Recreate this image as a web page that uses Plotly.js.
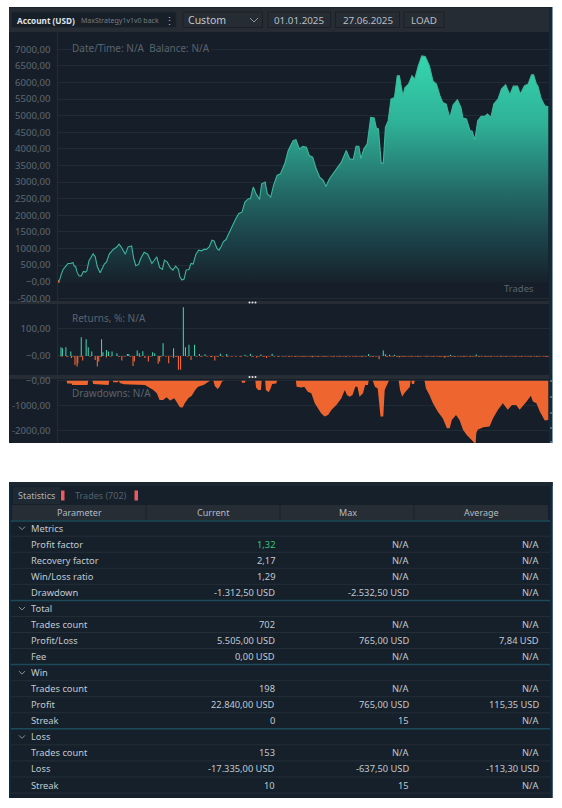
<!DOCTYPE html>
<html><head><meta charset="utf-8">
<script src="https://cdn.plot.ly/plotly-3.0.1.min.js"></script>
<style>html,body{margin:0;padding:0;background:#fff}#c{width:562px;height:808px}</style>
</head><body><div id="c"></div>
<script>
const equityTrades=[0,3,5,8,12,15,19,22,24,26,28,31,34,37,40,42,45,47,51,54,57,61,64,67,70,74,80,84,88,91,97,101,106,109,112,116,119,124,129,132,135,138,142,146,150,153,157,161,165,169,173,175,178,181,184,188,191,194,198,202,206,210,213,217,221,224,228,231,234,237,241,245,248,254,259,264,268,273,276,280,284,289,292,297,300,305,309,314,319,325,330,337,341,346,351,356,360,365,370,375,380,384,389,396,406,413,418,423,427,431,434,438,443,448,453,456,459,463,466,469,473,477,482,486,489,494,497,502,507,511,516,521,526,532,537,542,547,551,556,561,566,572,577,580,585,590,593,597,601,606,611,615,620,624,630,635,641,647,652,658,662,668,673,678,681,685,687,692,697,702];
const equityValues=[0,50,200,370,470,550,550,580,470,450,280,170,170,310,290,330,630,700,840,750,450,270,400,530,590,830,980,1030,1130,1050,830,1050,1080,700,480,520,700,890,830,670,550,630,750,430,370,650,590,430,350,470,370,150,50,80,350,370,550,530,830,950,930,980,970,1050,1250,1230,1000,950,1050,1200,1270,1450,1600,1850,2050,2100,2400,2500,2500,2850,2650,2480,2950,3000,2650,2550,2900,3200,3250,3550,3950,4250,4280,4000,4080,4050,3800,3750,3400,3150,3050,2870,3100,3300,3600,3950,3700,3680,4080,4080,3700,4000,4150,4950,4930,4630,4600,3570,3570,4650,4850,5500,5550,6200,6200,5600,5850,5950,6200,6100,6500,6800,6780,6500,6050,5950,5600,5400,5350,4930,5330,5480,5250,4930,4900,4550,4530,4270,4850,4980,4980,5050,4950,5350,5500,5800,5930,5630,5890,5890,5650,5900,5950,6230,6230,5950,5900,5500,5300,5270];
const startLossTrades=[0,3];
const startLossValues=[0,0];
const winTrades=[5,7,12,19,34,41,44,49,63,65,70,73,78,85,100,102,114,117,122,136,139,151,166,180,183,188,196,203,211,233,242,268,276,291,307,445,466,469,475,482,562,599];
const winValues=[32,28,32,16,68,61,32,16,61,13,22,16,16,10,7,7,20,10,17,13,10,46,28,178,32,41,41,7,6,8,7,4,8,5,8,7,20,6,4,4,4,5];
const bigLossTrades=[20,25,28,29,36,54,57,59,70,92,108,110,125,130,144,146,159,166,173,176,191,225,285,299,365,460,489,554];
const bigLossValues=[-8,-33,-39,-27,-17,-15,-39,-21,-6,-17,-37,-21,-8,-21,-29,-21,-27,-8,-51,-51,-15,-17,-7,-8,-5,-12,-5,-7];
const smallLossTrades=[6,14,23,33,47,62,76,88,96,104,118,134,148,155,163,170,186,199,206,214,220,229,236,243,249,255,262,271,279,288,295,303,310,316,322,326,331,335,340,344,348,352,356,360,364,369,373,378,382,386,391,395,400,404,409,413,418,423,427,432,436,441,447,451,456,471,476,480,486,491,495,499,503,507,512,516,520,525,529,534,538,543,547,551,555,559,564,568,573,577,581,585,590,594,598,603,607,612,616,620,625,629,634,638,642,647,651,655,660,664,669,673,677,682,686,690,695,699,702];
const smallLossValues=[-2,-3,-2,-3,-2,-3,-2,-3,-2,-2,-3,-2,-3,-2,-2,-3,-2,-2,-3,-2,-4,-3,-2,-3,-2,-2,-3,-2,-3,-2,-3,-2,-2,-3,-2,-2,-3,-2,-3,-2,-2,-3,-2,-2,-3,-2,-3,-2,-3,-2,-2,-3,-2,-3,-2,-3,-2,-2,-3,-2,-3,-2,-2,-3,-2,-3,-2,-2,-3,-2,-3,-2,-2,-3,-2,-3,-2,-2,-3,-2,-3,-2,-3,-2,-2,-3,-2,-3,-2,-2,-3,-2,-3,-2,-2,-3,-2,-3,-2,-3,-2,-2,-3,-2,-3,-2,-2,-3,-2,-3,-2,-2,-3,-2,-3,-2,-2,-3,-2];
const ddTrades=[13,14,20,21,43,44,50,51,73,74,79,80,86,87,88,89,95,125,137,142,146,151,156,161,167,170,175,179,182,187,192,197,201,209,217,218,223,225,229,232,235,238,263,264,268,269,283,284,287,291,292,297,298,302,305,307,313,314,341,342,349,353,358,363,368,372,377,382,387,392,399,406,411,414,418,422,426,429,432,437,440,444,445,451,454,458,462,466,468,474,488,490,493,496,504,505,506,507,510,511,525,527,532,537,544,551,557,561,564,570,575,580,585,592,598,599,601,609,618,623,630,637,644,650,656,661,666,671,677,680,685,690,697,702];
const ddValues=[0,-105,-110,-170,-170,0,0,-130,-170,0,0,-55,-55,0,0,-85,-135,-165,-370,-500,-765,-765,-660,-790,-700,-830,-1055,-1070,-900,-700,-595,-370,-240,-170,-40,0,0,-210,-330,-240,-40,0,0,-80,-80,0,0,-265,-370,-370,0,0,-370,-460,-300,-130,-105,0,0,-240,-265,-240,-435,-500,-900,-1095,-1295,-1425,-1360,-1160,-965,-700,-370,-570,-635,-570,-240,-240,-635,-500,-170,-170,0,0,-240,-305,-1425,-1425,-370,0,0,-370,-635,-500,-240,0,0,-130,-130,0,0,-305,-570,-900,-1230,-1490,-1890,-1890,-1560,-1360,-1560,-1955,-2150,-2350,-2530,-2085,-1955,-1850,-1820,-1490,-1160,-900,-1160,-965,-965,-1160,-1000,-830,-595,-830,-900,-1230,-1585,-1560];
const equityTicks=[7000,6500,6000,5500,5000,4500,4000,3500,3000,2500,2000,1500,1000,500,0,-500];
const equityTickText=['7000,00','6500,00','6000,00','5500,00','5000,00','4500,00','4000,00','3500,00','3000,00','2500,00','2000,00','1500,00','1000,00','500,00','−0,00','-500,00'];
const returnTicks=[100,0];
const returnTickText=['100,00','−0,00'];
const ddTicks=[0,-1000,-2000];
const ddTickText=['−0,00','-1000,00','-2000,00'];
const tableHeaders=['Parameter','Current','Max','Average'];
const rowNames=['Metrics','Profit factor','Recovery factor','Win/Loss ratio','Drawdown','Total','Trades count','Profit/Loss','Fee','Win','Trades count','Profit','Streak','Loss','Trades count','Loss','Streak'];
const rowIsGroup=[1,0,0,0,0,1,0,0,0,1,0,0,0,1,0,0,0];
const currentCol=['','1,32','2,17','1,29','-1.312,50 USD','','702','5.505,00 USD','0,00 USD','','198','22.840,00 USD','0','','153','-17.335,00 USD','10'];
const maxCol=['','N/A','N/A','N/A','-2.532,50 USD','','N/A','765,00 USD','N/A','','N/A','765,00 USD','15','','N/A','-637,50 USD','15'];
const avgCol=['','N/A','N/A','N/A','N/A','','N/A','7,84 USD','N/A','','N/A','115,35 USD','N/A','','N/A','-113,30 USD','N/A'];

const W=562,H=808,FONT='"Noto Sans", "Open Sans", sans-serif';
const px=x=>x/W, py=y=>1-y/H;
const shapes=[],ann=[];
function rect(x0,y0,x1,y1,fill,line){shapes.push({type:'rect',xref:'paper',yref:'paper',x0:px(x0),x1:px(x1),y0:py(y0),y1:py(y1),fillcolor:fill,line:line?{color:line,width:1}:{width:0},layer:'below'});}
function hline(x0,x1,y,c,w){shapes.push({type:'line',xref:'paper',yref:'paper',x0:px(x0),x1:px(x1),y0:py(y),y1:py(y),line:{color:c,width:w||1},layer:'below'});}
function vline(x,y0,y1,c){shapes.push({type:'line',xref:'paper',yref:'paper',x0:px(x),x1:px(x),y0:py(y0),y1:py(y1),line:{color:c,width:1},layer:'below'});}
function txt(t,x,y,o){o=o||{};ann.push({text:t,xref:'paper',yref:'paper',x:px(x),y:py(y),xanchor:o.a||'left',yanchor:'middle',showarrow:false,borderpad:0,bgcolor:o.bg,font:{family:FONT,size:o.s||9.5,color:o.c||'#c2c9cf',weight:o.w}});}

const PANEL='#161f29';
rect(9,7,552,443,PANEL);
rect(9,7,549,32,'#262c33');
rect(549,7,552.5,443,'#0e2a3c');
rect(9,7,552,8,'#1b232c');
rect(9,301,549,304,'#262d35');
rect(9,375,549,379,'#262d35');
[302.5,377].forEach(y=>[249.5,252.5,255.5].forEach(x=>shapes.push({type:'circle',xref:'paper',yref:'paper',x0:px(x-1),x1:px(x+1),y0:py(y+1),y1:py(y-1),fillcolor:'#e6e9ec',line:{width:0},layer:'above'})));
[381,397,413,428,442].forEach(y=>hline(550,552.5,y,'#7fb0c8',1));
rect(11.5,12,176,27.5,'#171f29','#1f262e');
txt('<b>Account (USD)</b>',15.5,20,{s:8.2,c:'#dfe4e8'});
txt('MaxStrategy1v1v0 back',80,20,{s:7,c:'#747c84'});
txt('⋮',169,20,{s:11,c:'#aeb5bc',a:'center'});
rect(183,12,262.5,27.5,'#262c33','#1b2027');
txt('Custom',187,20,{s:10.5,c:'#c2c8cd'});
shapes.push({type:'path',xref:'paper',yref:'paper',path:`M${px(250)},${py(18)} L${px(254)},${py(22)} L${px(258)},${py(18)}`,line:{color:'#8b929a',width:1},layer:'above'});
rect(268,12,330.5,27.5,'#262c33','#1b2027');
txt('01.01.2025',299,20,{s:9.8,c:'#b8bfc5',a:'center'});
rect(335.5,12,399.5,27.5,'#262c33','#1b2027');
txt('27.06.2025',367.5,20,{s:9.8,c:'#b8bfc5',a:'center'});
rect(404,12,444,27.5,'#262c33','#1b2027');
txt('LOAD',424,20,{s:9.8,c:'#b8bfc5',a:'center'});
txt('Date/Time: N/A  Balance: N/A',71,48,{s:10,c:'#59636d',bg:PANEL});
txt('Returns, %: N/A',71,318,{s:10,c:'#59636d'});
txt('Drawdowns: N/A',71,393,{s:10,c:'#59636d'});
txt('Trades',535,288.5,{s:9.5,c:'#59636d',a:'right'});
const TB='#15202b';
rect(9,482,552.5,798,TB);
rect(9,482,11,798,'#0e2a3c');
rect(550,482,552.5,798,'#0e2a3c');
rect(9,482,552.5,486,'#1b2731');
rect(13,487,60,504,'#1f2934');
txt('Statistics',16.5,495.5,{s:9,c:'#aab2ba'});
rect(61,490.5,64.5,500.5,'#ef5a5f');
txt('Trades (702)',73.5,495.5,{s:9,c:'#56616b'});
rect(134.5,490.5,138,500.5,'#ef5a5f');
rect(12,505,548,520,'#262d35');
[146,280,414].forEach(x=>vline(x,505,520,'#1a222b'));
hline(11,550,521,'#1d4a5a',1.5);
const headerCentres=[79,213,347.5,481];
tableHeaders.forEach((h,i)=>txt(h,headerCentres[i],512.5,{s:9,c:'#b4bbc2',a:'center'}));
rowNames.forEach((n,i)=>{
  const y=528.2+i*16.05, g=rowIsGroup[i];
  txt(n,29.5,y,{s:9.3});
  if(g) shapes.push({type:'path',xref:'paper',yref:'paper',path:`M${px(19)},${py(y-1.5)} L${px(22)},${py(y+1.5)} L${px(25)},${py(y-1.5)}`,line:{color:'#8b929a',width:1},layer:'above'});
  else{
    txt(currentCol[i],276,y,{s:9.3,a:'right',c:i===1?'#35c878':undefined});
    txt(maxCol[i],409.5,y,{s:9.3,a:'right'});
    txt(avgCol[i],540,y,{s:9.3,a:'right'});
  }
  const next=rowIsGroup[i+1];
  hline(11,550,y+8,next?'#1d4a5a':'#242e38',next?1.5:1);
});

const xBase={range:[0,703],showgrid:false,zeroline:false,showticklabels:false,ticks:'',fixedrange:true};
function yBase(ticks,text,range,dom){return {domain:dom,range:range,tickvals:ticks,ticktext:text,tickmode:'array',showgrid:true,gridcolor:'#212b36',gridwidth:1,zeroline:false,showline:true,linecolor:'#222c37',ticks:'outside',ticklen:4,tickcolor:'rgba(0,0,0,0)',tickfont:{family:FONT,size:9.6,color:'#5e6872'},fixedrange:true};}
const xd=[px(57.5),px(549)];
const traces=[
 {type:'scatter',mode:'lines',x:equityTrades,y:equityValues,xaxis:'x',yaxis:'y',line:{color:'#3db69c',width:1.1},fill:'tozeroy',
  fillgradient:{type:'vertical',start:6900,stop:-100,colorscale:[[0,'#35d8b0'],[0.3,'#2fb298'],[0.6,'#236a66'],[0.8,'#1c4249'],[1,'#161f29']]}},
 {type:'scatter',mode:'lines',x:startLossTrades,y:startLossValues,xaxis:'x',yaxis:'y',line:{color:'#e8622f',width:2}},
 {type:'bar',x:smallLossTrades,y:smallLossValues,xaxis:'x2',yaxis:'y2',width:3.6,marker:{color:'#d85a2c',line:{width:0}}},
 {type:'bar',x:bigLossTrades,y:bigLossValues,xaxis:'x2',yaxis:'y2',width:1.6,marker:{color:'#ee6530',line:{width:0}}},
 {type:'bar',x:winTrades,y:winValues,xaxis:'x2',yaxis:'y2',width:1.5,marker:{color:'#3fd0ac',line:{width:0}}},
 {type:'scatter',mode:'lines',x:ddTrades,y:ddValues,xaxis:'x3',yaxis:'y3',line:{width:0,color:'#ee6530'},fill:'tozeroy',fillcolor:'#ee6530'}
];
const layout={width:W,height:H,margin:{l:0,r:0,t:0,b:0},paper_bgcolor:'#ffffff',plot_bgcolor:'rgba(0,0,0,0)',showlegend:false,barmode:'overlay',
 xaxis:Object.assign({domain:xd,anchor:'y'},xBase),
 xaxis2:Object.assign({domain:xd,anchor:'y2'},xBase),
 xaxis3:Object.assign({domain:xd,anchor:'y3'},xBase),
 yaxis:Object.assign(yBase(equityTicks,equityTickText,[-581,7520],[py(301),py(32)]),{anchor:'x'}),
 yaxis2:Object.assign(yBase(returnTicks,returnTickText,[-70,190],[py(375),py(304)]),{anchor:'x2'}),
 yaxis3:Object.assign(yBase(ddTicks,ddTickText,[-2480,70],[py(443),py(379)]),{anchor:'x3'}),
 shapes:shapes,annotations:ann,hovermode:false};
Plotly.newPlot('c',traces,layout,{displayModeBar:false,staticPlot:true});
</script></body></html>
